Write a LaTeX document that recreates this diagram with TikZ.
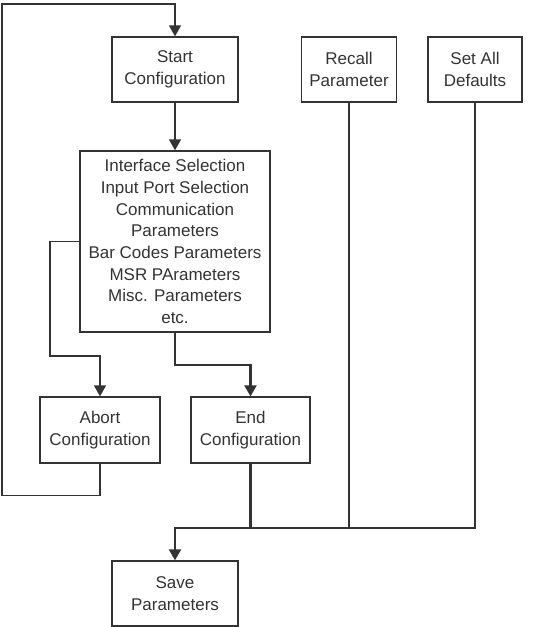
\documentclass[tikz,border=0pt]{standalone}
\usepackage{fontspec}
\setmainfont{Liberation Sans}
\usetikzlibrary{arrows.meta}

\begin{document}
\begin{tikzpicture}[x=1pt,y=-1pt]
\tikzset{box/.style = {shape=rectangle,draw,line width=1.3pt,inner sep=0pt,align=center,
  font=\fontsize{17}{21.7}\selectfont}}
\tikzset{line/.style = {line width=1.3pt}}
\tikzset{edge/.style = {line,->,> = {Triangle[width=12pt,length=11pt]}}}
\tikzset{heavy/.style = {line width=2.2pt}}
\color{black!80}
\useasboundingbox (0,0) rectangle (545,627);

%boxes
\node[box,minimum width=126pt,minimum height=65pt] (start) at (175,69.5) {Start\\Configuration};
\node[box,minimum width=95pt,minimum height=65pt] (recall) at (349,69.5) {Recall\\Parameter};
\node[box,minimum width=94pt,minimum height=65pt] (defaults) at (475,69.5) {Set All\\Defaults};
\node[box,minimum width=190pt,minimum height=181pt] (main) at (175,241.5)
  {Interface Selection\\Input Port Selection\\Communication\\Parameters\\Bar Codes Parameters\\MSR PArameters\\Misc. Parameters\\etc.};
\node[box,minimum width=120pt,minimum height=66pt] (abort) at (100,430) {Abort\\Configuration};
\node[box,minimum width=119pt,minimum height=66pt] (end) at (250.5,430) {End\\Configuration};
\node[box,minimum width=126pt,minimum height=65pt] (save) at (175,593.5) {Save\\Parameters};

%bends
\coordinate (loop) at (2,4);
\coordinate (abortbend) at (50,356);
\coordinate (merge) at (175,528);

%edges
\draw[edge] (start) -- (main);
\draw[edge] (main.west) -| (abortbend) -| (abort.north);
\draw[edge,heavy] (main.south) -- ++(0,32) -| (end.north);
\draw[edge] (abort.south) -- ++(0,32) -| (loop) -| (start.north);
\draw[line] (defaults.south) |- (end.south |- merge);
\draw[line] (recall.south) -- (recall.south |- merge);
\draw[edge,heavy] (end.south) |- (merge) -- (save.north);

\end{tikzpicture}
\end{document}
